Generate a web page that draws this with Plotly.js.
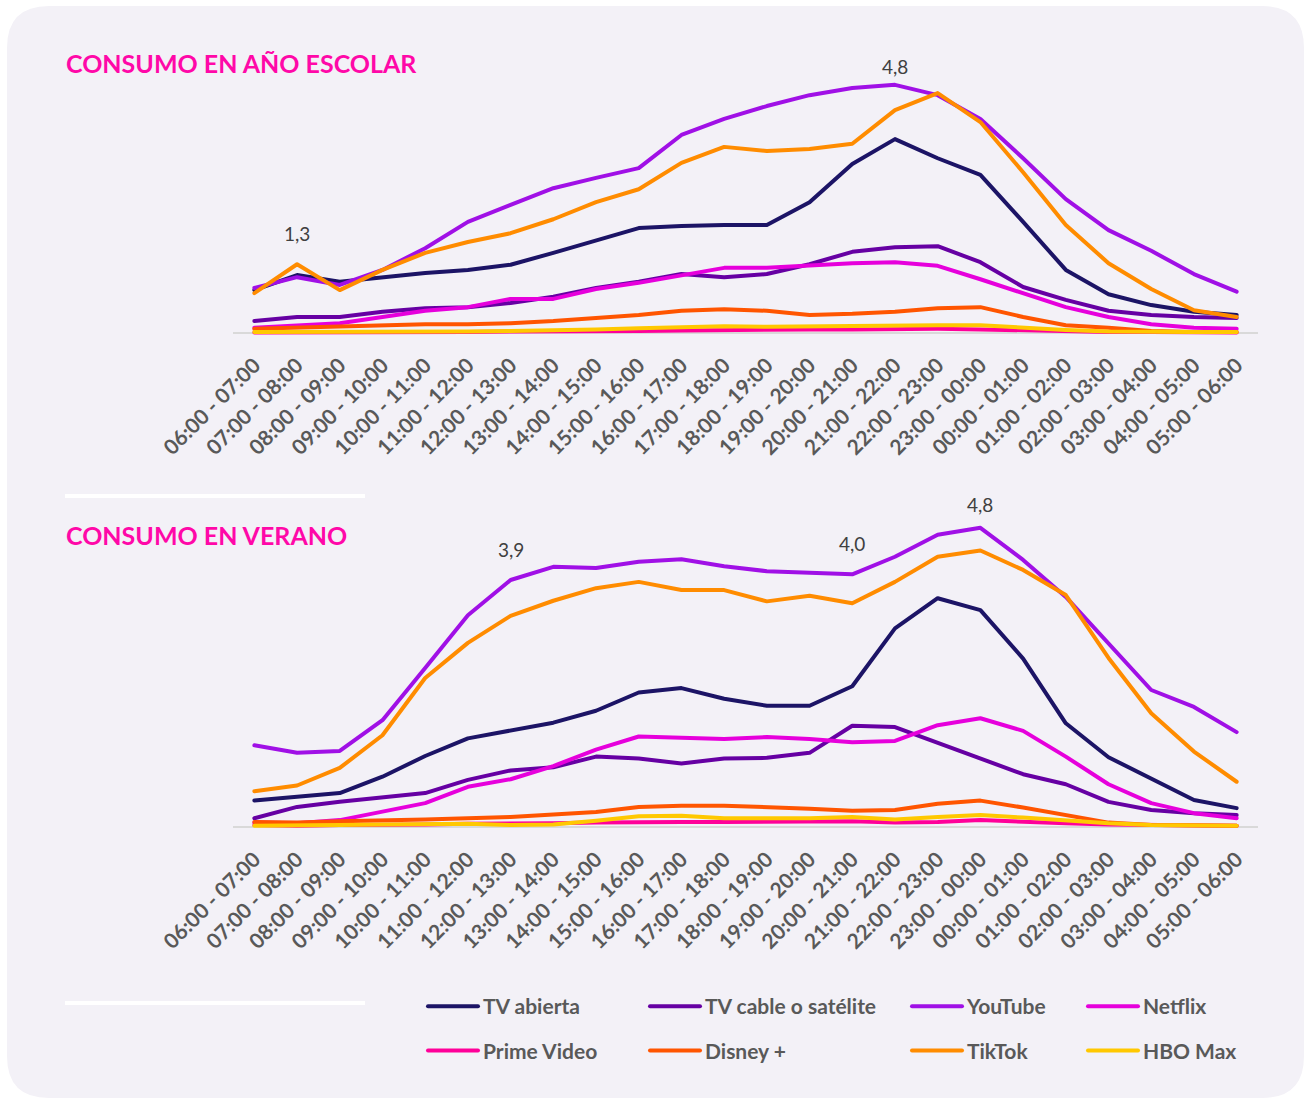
<!DOCTYPE html>
<html><head><meta charset="utf-8">
<script src="https://cdn.plot.ly/plotly-3.0.1.min.js"></script>
<style>
html,body{margin:0;padding:0;background:#ffffff;}
#chart{width:1304px;height:1099px;}
.js-line{stroke-linejoin:round;stroke-linecap:round;}
</style></head><body><div id="chart"></div>
<script>
const hours = ['06:00 - 07:00','07:00 - 08:00','08:00 - 09:00','09:00 - 10:00','10:00 - 11:00','11:00 - 12:00',
  '12:00 - 13:00','13:00 - 14:00','14:00 - 15:00','15:00 - 16:00','16:00 - 17:00','17:00 - 18:00',
  '18:00 - 19:00','19:00 - 20:00','20:00 - 21:00','21:00 - 22:00','22:00 - 23:00','23:00 - 00:00',
  '00:00 - 01:00','01:00 - 02:00','02:00 - 03:00','03:00 - 04:00','04:00 - 05:00','05:00 - 06:00'];

const seriesNames = ['TV abierta','TV cable o satélite','YouTube','Netflix','Prime Video','Disney +','TikTok','HBO Max'];

// CONSUMO EN AÑO ESCOLAR
const tvAbiertaEsc = [0.83,1.12,0.99,1.08,1.16,1.22,1.32,1.55,1.80,2.03,2.07,2.09,2.09,2.53,3.27,3.75,3.38,3.06,2.15,1.22,0.75,0.54,0.41,0.35];
const tvCableEsc   = [0.23,0.31,0.31,0.41,0.48,0.50,0.58,0.70,0.87,0.99,1.14,1.08,1.14,1.33,1.57,1.66,1.68,1.37,0.89,0.64,0.43,0.35,0.31,0.29];
const youtubeEsc   = [0.87,1.08,0.93,1.22,1.64,2.15,2.48,2.80,3.00,3.19,3.83,4.14,4.39,4.60,4.74,4.80,4.60,4.14,3.38,2.59,1.99,1.59,1.14,0.80];
const netflixEsc   = [0.10,0.14,0.19,0.31,0.43,0.50,0.66,0.66,0.85,0.97,1.12,1.26,1.26,1.30,1.35,1.37,1.30,1.04,0.77,0.50,0.31,0.17,0.10,0.08];
const primeEsc     = [0.01,0.01,0.01,0.02,0.02,0.02,0.03,0.03,0.03,0.04,0.05,0.06,0.06,0.07,0.07,0.08,0.08,0.07,0.05,0.03,0.02,0.02,0.01,0.01];
const disneyEsc    = [0.08,0.10,0.12,0.15,0.17,0.17,0.19,0.23,0.29,0.35,0.43,0.46,0.43,0.35,0.37,0.41,0.48,0.50,0.31,0.15,0.10,0.04,0.02,0.02];
const tiktokEsc    = [0.77,1.33,0.83,1.22,1.55,1.76,1.93,2.20,2.53,2.78,3.29,3.60,3.52,3.56,3.66,4.31,4.64,4.08,3.11,2.09,1.35,0.85,0.44,0.31];
const hboEsc       = [0.02,0.02,0.02,0.03,0.03,0.03,0.04,0.05,0.07,0.09,0.11,0.13,0.12,0.13,0.14,0.15,0.15,0.15,0.10,0.06,0.03,0.02,0.02,0.02];

// CONSUMO EN VERANO
const tvAbiertaVer = [0.42,0.48,0.54,0.80,1.13,1.41,1.53,1.66,1.85,2.14,2.21,2.04,1.93,1.93,2.24,3.16,3.64,3.45,2.68,1.65,1.11,0.77,0.43,0.30];
const tvCableVer   = [0.14,0.32,0.40,0.47,0.54,0.75,0.90,0.95,1.12,1.09,1.01,1.09,1.10,1.18,1.61,1.59,1.34,1.09,0.84,0.68,0.40,0.27,0.22,0.19];
const youtubeVer   = [1.30,1.18,1.21,1.70,2.53,3.37,3.93,4.14,4.12,4.22,4.26,4.15,4.07,4.04,4.02,4.30,4.65,4.76,4.25,3.66,2.93,2.18,1.91,1.51];
const netflixVer   = [0.07,0.06,0.11,0.24,0.38,0.64,0.76,0.97,1.23,1.44,1.42,1.40,1.43,1.40,1.35,1.37,1.62,1.73,1.53,1.12,0.68,0.38,0.22,0.14];
const primeVer     = [0.03,0.02,0.03,0.03,0.04,0.05,0.05,0.06,0.07,0.08,0.08,0.08,0.08,0.08,0.09,0.07,0.08,0.11,0.08,0.06,0.04,0.03,0.02,0.02];
const disneyVer    = [0.08,0.07,0.09,0.10,0.12,0.14,0.16,0.20,0.24,0.32,0.34,0.34,0.32,0.29,0.26,0.27,0.37,0.42,0.31,0.19,0.07,0.03,0.02,0.02];
const tiktokVer    = [0.57,0.66,0.94,1.46,2.37,2.93,3.36,3.60,3.80,3.90,3.77,3.77,3.59,3.68,3.56,3.90,4.30,4.40,4.09,3.69,2.69,1.81,1.20,0.72];
const hboVer       = [0.02,0.02,0.03,0.04,0.04,0.05,0.03,0.04,0.10,0.17,0.18,0.14,0.14,0.14,0.16,0.12,0.16,0.19,0.15,0.10,0.06,0.03,0.02,0.02];

const chartTitles = ['CONSUMO EN AÑO ESCOLAR','CONSUMO EN VERANO'];
// highlighted values: [series index, hour index]
const labelsEsc = [[6,1],[2,15]];
const labelsVer = [[2,6],[2,14],[2,17]];

const escolar = [tvAbiertaEsc,tvCableEsc,youtubeEsc,netflixEsc,primeEsc,disneyEsc,tiktokEsc,hboEsc];
const verano  = [tvAbiertaVer,tvCableVer,youtubeVer,netflixVer,primeVer,disneyVer,tiktokVer,hboVer];

const colors = ['#1c1466','#6600a3','#a010e6','#e600dc','#ff0099','#ff5500','#ff8c00','#ffc800'];

const W = 1304, H = 1099;
const px = v => v / W;
const py = v => 1 - v / H;

const legendIds = ['legend','legend2','legend3','legend4'];
const traces = [];
seriesNames.forEach((name, i) => {
  traces.push({x: hours, y: escolar[i], name: name, type: 'scatter', mode: 'lines',
    xaxis: 'x', yaxis: 'y', showlegend: false,
    line: {color: colors[i], width: 4}, hoverinfo: 'skip'});
});
seriesNames.forEach((name, i) => {
  traces.push({x: hours, y: verano[i], name: name, type: 'scatter', mode: 'lines',
    xaxis: 'x2', yaxis: 'y2', showlegend: true, legend: legendIds[i % 4], legendgroup: 'g' + i,
    line: {color: colors[i], width: 4}, hoverinfo: 'skip'});
});

const fmt = v => v.toFixed(1).replace('.', ',');
const annotations = [];
const labelFont = {family: 'Lato, Carlito, sans-serif', size: 19, color: '#404040'};
labelsEsc.forEach(([s, h]) => {
  const v = escolar[s][h];
  annotations.push({xref: 'x', yref: 'y', x: hours[h], y: v, text: fmt(v), showarrow: false,
    yshift: v > 4.5 ? 18 : 31, font: labelFont});
});
labelsVer.forEach(([s, h]) => {
  const v = verano[s][h];
  annotations.push({xref: 'x2', yref: 'y2', x: hours[h], y: v, text: fmt(v), showarrow: false,
    yshift: v > 4.5 ? 23 : 31, font: labelFont});
});
const titleFont = {family: 'Lato, sans-serif', size: 25, color: '#ff08a8', weight: 'bold'};
annotations.push({xref: 'paper', yref: 'paper', x: px(64), y: py(63), xanchor: 'left', yanchor: 'middle',
  text: chartTitles[0], showarrow: false, font: titleFont});
annotations.push({xref: 'paper', yref: 'paper', x: px(64), y: py(535), xanchor: 'left', yanchor: 'middle',
  text: chartTitles[1], showarrow: false, font: titleFont});

// rounded card background
const cx0 = 7, cy0 = 6, cx1 = 1304, cy1 = 1098, r = 42;
const cardPath = 'M' + px(cx0 + r) + ',' + py(cy0) +
  ' L' + px(cx1 - r) + ',' + py(cy0) +
  ' Q' + px(cx1) + ',' + py(cy0) + ' ' + px(cx1) + ',' + py(cy0 + r) +
  ' L' + px(cx1) + ',' + py(cy1 - r) +
  ' Q' + px(cx1) + ',' + py(cy1) + ' ' + px(cx1 - r) + ',' + py(cy1) +
  ' L' + px(cx0 + r) + ',' + py(cy1) +
  ' Q' + px(cx0) + ',' + py(cy1) + ' ' + px(cx0) + ',' + py(cy1 - r) +
  ' L' + px(cx0) + ',' + py(cy0 + r) +
  ' Q' + px(cx0) + ',' + py(cy0) + ' ' + px(cx0 + r) + ',' + py(cy0) + ' Z';

const shapes = [
  {type: 'path', xref: 'paper', yref: 'paper', path: cardPath, fillcolor: '#f3f1f7', line: {width: 0}, layer: 'below'},
  {type: 'line', xref: 'paper', yref: 'paper', x0: px(65), x1: px(365), y0: py(496), y1: py(496), line: {color: '#ffffff', width: 4}, layer: 'below'},
  {type: 'line', xref: 'paper', yref: 'paper', x0: px(65), x1: px(365), y0: py(1003), y1: py(1003), line: {color: '#ffffff', width: 4}, layer: 'below'}
];

const tickFont = {family: 'Lato, Carlito, sans-serif', size: 21, color: '#595959', weight: 'bold'};
const xCommon = {type: 'category', range: [-0.5, 23.5], tickmode: 'linear', tick0: 0, dtick: 1,
  tickangle: -45, tickfont: tickFont, showgrid: false, zeroline: false, showline: false,
  ticks: '', ticklabelstandoff: 3, fixedrange: true, domain: [px(233), px(1258)]};
const yCommon = {showgrid: false, showticklabels: false, zeroline: true, zerolinecolor: '#d9d9d9',
  zerolinewidth: 2, showline: false, ticks: '', fixedrange: true};

const legendFont = {family: 'Lato, Carlito, sans-serif', size: 21, color: '#595959', weight: 'bold'};
const colX = [428, 650, 912, 1088];
const legends = {};
legendIds.forEach((id, k) => {
  legends[id] = {orientation: 'v', x: px(colX[k] - 5), y: py(986), xanchor: 'left', yanchor: 'top',
    bgcolor: 'rgba(0,0,0,0)', borderwidth: 0, font: legendFont, tracegroupgap: 14, itemwidth: 50,
    itemclick: false, itemdoubleclick: false};
});

const layout = Object.assign({
  width: W, height: H,
  margin: {l: 0, r: 0, t: 0, b: 0, autoexpand: false},
  paper_bgcolor: '#ffffff', plot_bgcolor: 'rgba(0,0,0,0)',
  showlegend: true,
  xaxis: Object.assign({}, xCommon, {anchor: 'y'}),
  yaxis: Object.assign({}, yCommon, {anchor: 'x', domain: [py(345), py(60)], range: [-12/51.7, 273/51.7]}),
  xaxis2: Object.assign({}, xCommon, {anchor: 'y2'}),
  yaxis2: Object.assign({}, yCommon, {anchor: 'x2', domain: [py(839), py(490)], range: [-12/62.85, 337/62.85]}),
  annotations: annotations,
  shapes: shapes
}, legends);

Plotly.newPlot('chart', traces, layout, {displayModeBar: false, staticPlot: true});
</script></body></html>
